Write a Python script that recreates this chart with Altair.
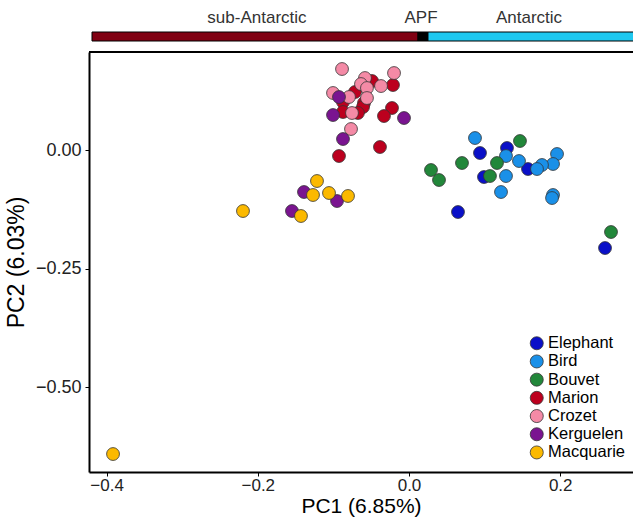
import altair as alt
import pandas as pd

FONT = "Liberation Sans"

populations = ["Elephant", "Bird", "Bouvet", "Marion", "Crozet", "Kerguelen", "Macquarie"]
pop_colors = ["#0a10c8", "#1a90e8", "#22873a", "#bc001e", "#f48aa6", "#7a1490", "#fbb900"]

elephant_pc1 = [0.1296, 0.0939, 0.1574, 0.0992, 0.0648, 0.2593]
elephant_pc2 = [0.0042, -0.0063, -0.0401, -0.0570, -0.1308, -0.2068]

bird_pc1 = [0.0873, 0.1283, 0.1958, 0.1455, 0.1905, 0.1759, 0.1693, 0.1283, 0.1217, 0.1905, 0.1892]
bird_pc2 = [0.0253, -0.0127, -0.0084, -0.0232, -0.0295, -0.0316, -0.0401, -0.0549, -0.0886, -0.0949, -0.1013]

bouvet_pc1 = [0.1468, 0.0701, 0.1164, 0.0291, 0.0397, 0.1071, 0.2672]
bouvet_pc2 = [0.0190, -0.0274, -0.0274, -0.0422, -0.0633, -0.0549, -0.1730]

marion_pc1 = [-0.0489, -0.0212, -0.0714, -0.0873, -0.0595, -0.0608, -0.0873, -0.0675, -0.0225, -0.0331, -0.0384, -0.0926]
marion_pc2 = [0.1456, 0.1371, 0.1224, 0.1013, 0.0992, 0.0907, 0.0802, 0.0781, 0.0886, 0.0717, 0.0063, -0.0127]

crozet_pc1 = [-0.0886, -0.0198, -0.0582, -0.0370, -0.0635, -0.0556, -0.1005, -0.0794, -0.0556, -0.0754, -0.0767]
crozet_pc2 = [0.1709, 0.1624, 0.1519, 0.1350, 0.1392, 0.1308, 0.1203, 0.1118, 0.1097, 0.0781, 0.0443]

kerguelen_pc1 = [-0.0926, -0.1005, -0.0066, -0.0873, -0.1389, -0.0952, -0.1548]
kerguelen_pc2 = [0.1118, 0.0738, 0.0675, 0.0232, -0.0886, -0.1076, -0.1287]

macquarie_pc1 = [-0.2196, -0.1429, -0.1270, -0.1217, -0.1058, -0.0807, -0.3915]
macquarie_pc2 = [-0.1287, -0.1392, -0.0949, -0.0654, -0.0907, -0.0970, -0.6414]

region_names = ["sub-Antarctic", "APF", "Antarctic"]
region_start = [-0.4193, 0.0119, 0.0251]
region_end = [0.0119, 0.0251, 0.3200]
region_colors = ["#800012", "#000000", "#1ec8f0"]
region_label_x = [-0.2011, 0.0159, 0.1587]

x_ticks = [-0.4, -0.2, 0.0, 0.2]
y_ticks = [-0.5, -0.25, 0.0]

X_DOMAIN = [-0.42328, 0.29630]
Y_DOMAIN = [-0.6793, 0.2068]
W, H = 544, 420

series = [
    (elephant_pc1, elephant_pc2), (bird_pc1, bird_pc2), (bouvet_pc1, bouvet_pc2),
    (marion_pc1, marion_pc2), (crozet_pc1, crozet_pc2), (kerguelen_pc1, kerguelen_pc2),
    (macquarie_pc1, macquarie_pc2),
]
rows = []
for name, (xs, ys) in zip(populations, series):
    for a, b in zip(xs, ys):
        rows.append({"Population": name, "PC1": a, "PC2": b})
df = pd.DataFrame(rows)

regions = pd.DataFrame({"name": region_names, "start": region_start, "end": region_end,
                        "color": region_colors, "lx": region_label_x})

xscale = alt.Scale(domain=X_DOMAIN, nice=False, zero=False)
yscale = alt.Scale(domain=Y_DOMAIN, nice=False, zero=False)
xaxis = alt.Axis(values=x_ticks, format=".1f", title="PC1 (6.85%)")

points = alt.Chart(df).mark_circle(size=165, opacity=1, stroke="#333333", strokeWidth=0.8).encode(
    x=alt.X("PC1:Q", scale=xscale, axis=xaxis),
    y=alt.Y("PC2:Q", scale=yscale,
            axis=alt.Axis(values=y_ticks, format=".2f", title="PC2 (6.03%)")),
    color=alt.Color("Population:N", scale=alt.Scale(domain=populations, range=pop_colors),
                    legend=alt.Legend(title=None, orient="none", legendX=439.5, legendY=283,
                                      symbolType="circle", symbolSize=170, symbolOpacity=1,
                                      symbolStrokeColor="#333333", symbolStrokeWidth=0.8,
                                      labelFont=FONT, labelFontSize=16.5, labelColor="black",
                                      rowPadding=1.2, labelOffset=3, padding=0)),
)

bar = alt.Chart(regions).mark_rect(clip=False, stroke="black", strokeWidth=1).encode(
    x=alt.X("start:Q", scale=xscale, axis=xaxis),
    x2="end:Q",
    y=alt.value(-20),
    y2=alt.value(-11),
    fill=alt.Fill("color:N", scale=None),
)

labels = alt.Chart(regions).mark_text(clip=False, font=FONT, fontSize=17, color="#333333",
                                      baseline="middle", align="center").encode(
    x=alt.X("lx:Q", scale=xscale, axis=xaxis),
    y=alt.value(-34),
    text="name:N",
)

top_border = alt.Chart(pd.DataFrame({"k": [0]})).mark_rule(color="black", strokeWidth=2).encode(
    x=alt.value(0), x2=alt.value(W), y=alt.value(0)
)

chart = alt.layer(points, bar, labels, top_border).properties(
    width=W, height=H,
    autosize=alt.AutoSizeParams(type="none"),
    padding={"left": 89, "top": 52, "right": 0, "bottom": 50},
).configure_view(stroke=None).configure_axis(
    grid=False, domainColor="black", domainWidth=2, tickColor="black", tickSize=4, tickWidth=1,
    labelColor="#222222", labelFontSize=18, labelFont=FONT,
    titleFont=FONT, titleFontWeight="normal", titleColor="black",
).configure_axisX(
    labelPadding=1, labelFontSize=17, titlePadding=2, titleFontSize=21
).configure_axisY(
    labelPadding=4, titlePadding=7, titleFontSize=23
)

chart.save("out.html", embed_options={"renderer": "svg", "actions": False})
